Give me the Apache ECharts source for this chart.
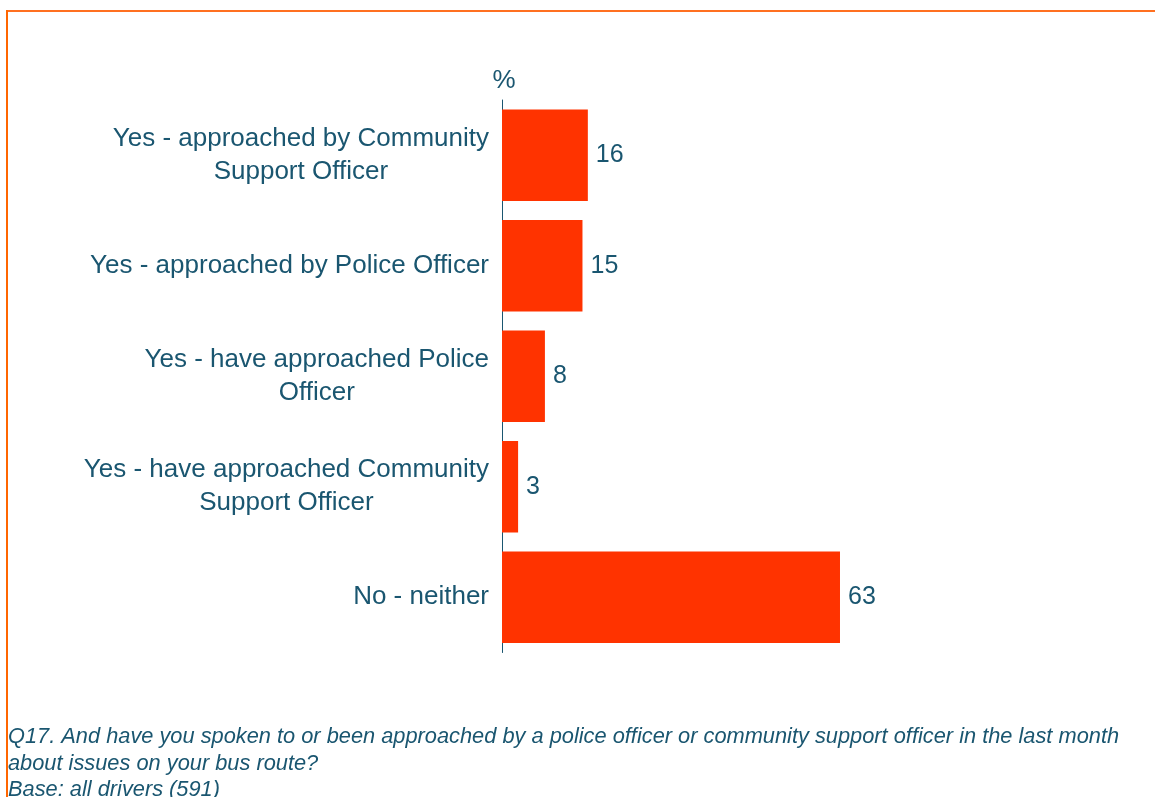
<!DOCTYPE html>
<html>
<head>
<meta charset="utf-8">
<script src="https://cdn.jsdelivr.net/npm/echarts@6/dist/echarts.min.js"></script>
<style>
  html, body { margin: 0; padding: 0; background: #fff; }
  #chart { width: 1155px; height: 797px; }
</style>
</head>
<body>
<div id="chart"></div>
<script>
// Survey responses, percent of drivers
const categories = [
  'Yes - approached by Community Support Officer',
  'Yes - approached by Police Officer',
  'Yes - have approached Police Officer',
  'Yes - have approached Community Support Officer',
  'No - neither'
];
const values = [16, 15, 8, 3, 63];
const axisName = '%';
const footnoteLines = [
  'Q17. And have you spoken to or been approached by a police officer or community support officer in the last month',
  'about issues on your bus route?',
  'Base: all drivers (591)'
];

const TEXT = '#1A5670';
const BAR = '#FF3300';
const FRAME = '#FF7020';
const FONT = '"Liberation Sans", Arial, sans-serif';

// Word-wrap long category names into lines of at most maxChars characters
function wrap(text, maxChars) {
  const words = text.split(' ');
  const lines = [];
  let cur = '';
  words.forEach(w => {
    const next = cur ? cur + ' ' + w : w;
    if (next.length > maxChars && cur) { lines.push(cur); cur = w; }
    else cur = next;
  });
  if (cur) lines.push(cur);
  return lines;
}

const chart = echarts.init(document.getElementById('chart'), null, { renderer: 'canvas' });

chart.setOption({
  animation: false,
  backgroundColor: '#fff',
  grid: { left: 502, top: 100, width: 536.5, height: 552.5, containLabel: false },
  xAxis: {
    type: 'value', min: 0, max: 100,
    show: false
  },
  yAxis: {
    type: 'category',
    data: categories,
    inverse: true,
    name: axisName,
    nameLocation: 'start',
    nameGap: 6,
    nameTextStyle: { color: TEXT, fontSize: 26, fontFamily: FONT, align: 'center', verticalAlign: 'bottom', padding: [0, 0, 0, 4] },
    axisLine: { show: true, lineStyle: { color: TEXT, width: 1 } },
    axisTick: { show: false },
    splitLine: { show: false },
    axisLabel: {
      margin: 13,
      color: TEXT,
      fontSize: 26,
      fontFamily: FONT,
      lineHeight: 33,
      formatter: v => wrap(v, 35).map(l => '{c|' + l + '}').join('\n'),
      rich: { c: { align: 'center', color: TEXT, fontSize: 26, fontFamily: FONT, lineHeight: 33 } }
    }
  },
  series: [{
    type: 'bar',
    data: values,
    barCategoryGap: '17%',
    itemStyle: { color: BAR },
    label: {
      show: true, position: 'right', distance: 8,
      color: TEXT, fontSize: 25, fontFamily: FONT
    }
  }],
  graphic: [
    { type: 'line', shape: { x1: 6, y1: 11, x2: 1155, y2: 11 }, style: { stroke: FRAME, lineWidth: 2 } },
    { type: 'line', shape: { x1: 7, y1: 10, x2: 7, y2: 797 }, style: { stroke: '#FF6600', lineWidth: 2 } },
    ...footnoteLines.map((t, i) => ({
      type: 'text', left: 8, top: 726 + i * 26.5,
      style: { text: t, fill: TEXT, font: 'italic 21.8px ' + FONT }
    }))
  ]
});
</script>
</body>
</html>
